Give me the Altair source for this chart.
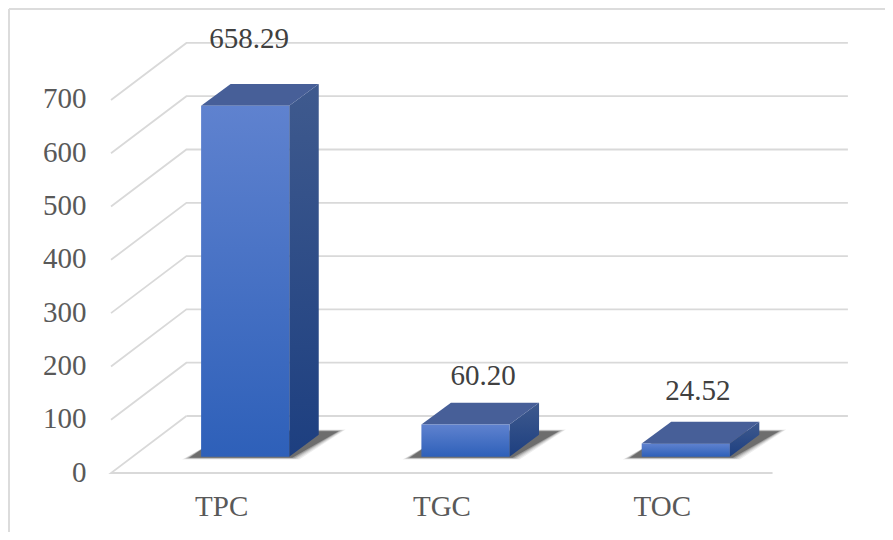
import json
import altair as alt
import pandas as pd

# chart values
categories = ["TPC", "TGC", "TOC"]
values = [658.29, 60.20, 24.52]
value_labels = ["658.29", "60.20", "24.52"]
y_ticks = [0, 100, 200, 300, 400, 500, 600, 700]

# pseudo-3D projection, in data units
BAR_SHIFT = 0.109      # front face centre relative to category tick
BAR_HALF = 0.2
BAR_BASE = 30.6        # floor position of the bar's base
DEPTH_X = 0.134
DEPTH_Y = 41.25
WALL_X = 0.3424
WALL_Y = 107
X0, X1, XEND = -0.5, 2.503, 2.845

# hand placement of the value labels, as in the reference
label_dx = [0.127, 0.189, 0.164]
label_dy = [155.5, 121.7, 129.0]

x_scale = alt.Scale(domain=[-0.5, 2.85], nice=False, zero=False)
y_scale = alt.Scale(domain=[0, 850], nice=False, zero=False)
label_expr = "%s[datum.value]" % json.dumps(categories)
x_axis = alt.Axis(
    values=[0, 1, 2], labelExpr=label_expr, title=None, domain=False, ticks=False, grid=False,
    labelFont="Liberation Serif", labelFontSize=29, labelColor="#595959", labelPadding=19,
    labelAngle=0, labelOverlap=False, labelFlush=False)
y_axis = alt.Axis(
    values=y_ticks, title=None, domain=False, ticks=False, grid=False,
    labelFont="Liberation Serif", labelFontSize=29, labelColor="#595959", labelPadding=25,
    labelOffset=-1, labelOverlap=False, labelFlush=False)
X = lambda f: alt.X(f, type="quantitative", scale=x_scale, axis=x_axis)
Y = lambda f: alt.Y(f, type="quantitative", scale=y_scale, axis=y_axis)

# grid -----------------------------------------------------------------
grid_rows = []
for t in y_ticks:
    pts = [(X0 + WALL_X, t + WALL_Y), (XEND, t + WALL_Y)]
    if t != 0:
        pts = [(X0, t)] + pts
    for i, (px, py) in enumerate(pts):
        grid_rows.append({"t": t, "o": i, "x": px, "y": py})
for i, (px, py) in enumerate([(X0 + WALL_X, WALL_Y), (X0, 0), (X1, 0)]):
    grid_rows.append({"t": -1, "o": i, "x": px, "y": py})

grid = alt.Chart(pd.DataFrame(grid_rows)).mark_line(color="#d9d9d9", strokeWidth=1.8, clip=False).encode(
    x=X("x"), y=Y("y"), detail="t:N", order="o:Q",
)

# outer frame (picture border)
frame_l = alt.Chart(pd.DataFrame({"a": [0]})).mark_rule(color="#dcdcdc", strokeWidth=2, clip=False).encode(
    x=alt.value(-102), y=alt.value(-11), y2=alt.value(512))
frame_t = alt.Chart(pd.DataFrame({"a": [0]})).mark_rule(color="#dcdcdc", strokeWidth=2, clip=False).encode(
    x=alt.value(-102), x2=alt.value(774), y=alt.value(-11))

def vgrad(top, bottom):
    return alt.Gradient(gradient="linear", x1=0, y1=0, x2=0, y2=1,
                        stops=[alt.GradientStop(color=top, offset=0), alt.GradientStop(color=bottom, offset=1)])

def hband(rows, **mark):
    return alt.Chart(pd.DataFrame(rows)).mark_area(orient="horizontal", **mark).encode(
        x=X("x"), x2=alt.X2("x2"), y=Y("y"))

def vband(rows, **mark):
    return alt.Chart(pd.DataFrame(rows)).mark_area(orient="vertical", **mark).encode(
        x=X("x"), y=Y("y"), y2=alt.Y2("y2"))

# shadows: nested floor parallelograms fake the blur --------------------
shadows = []
for spread, op in [(0.036, 0.07), (0.028, 0.09), (0.020, 0.12), (0.012, 0.17), (0.004, 0.30)]:
    for i, c in enumerate(categories):
        left = i + BAR_SHIFT - BAR_HALF - 0.05
        right = i + BAR_SHIFT + BAR_HALF + 0.01
        shadows.append(hband([
            {"y": 29 - spread * 100, "x": left - spread, "x2": right + spread},
            {"y": 78 + spread * 100, "x": left + 0.17 + spread, "x2": right + 0.21 + spread},
        ], color="#000000", opacity=op))

# faces ---------------------------------------------------------------
faces = []
front_rows = []
for i, (c, v) in enumerate(zip(categories, values)):
    l = i + BAR_SHIFT - BAR_HALF
    r = i + BAR_SHIFT + BAR_HALF
    front_rows.append({"c": c, "x": l, "x2": r, "y": BAR_BASE + v, "y2": BAR_BASE})
    faces.append(vband([
        {"x": r, "y": BAR_BASE + v, "y2": BAR_BASE},
        {"x": r + DEPTH_X, "y": BAR_BASE + v + DEPTH_Y, "y2": BAR_BASE + DEPTH_Y},
    ], color=vgrad("#3f5a8e", "#1d3f80")))
    faces.append(hband([
        {"y": BAR_BASE + v, "x": l, "x2": r},
        {"y": BAR_BASE + v + DEPTH_Y, "x": l + DEPTH_X, "x2": r + DEPTH_X},
    ], color="#475f98"))

front = alt.Chart(pd.DataFrame(front_rows)).mark_rect(color=vgrad("#5f82cf", "#2e60b9")).encode(
    x=X("x"), x2=alt.X2("x2"), y=Y("y"), y2=alt.Y2("y2"))

# value labels -----------------------------------------------------------
lab_df = pd.DataFrame({
    "x": [i + d for i, d in enumerate(label_dx)],
    "y": [v + d for v, d in zip(values, label_dy)],
    "t": value_labels,
})
labels = alt.Chart(lab_df).mark_text(font="Liberation Serif", fontSize=29, color="#404040", baseline="middle", align="center").encode(
    x=X("x"), y=Y("y"), text="t:N")

chart = alt.layer(grid, frame_l, frame_t, *shadows, *faces, front, labels).properties(
    width=738, height=453,
    padding={"left": 103, "right": 36, "top": 12, "bottom": 59},
    autosize=alt.AutoSizeParams(type="none"),
    background="white",
).configure_view(stroke=None)

chart.save("out.html", embed_options={"renderer": "svg", "actions": False})
